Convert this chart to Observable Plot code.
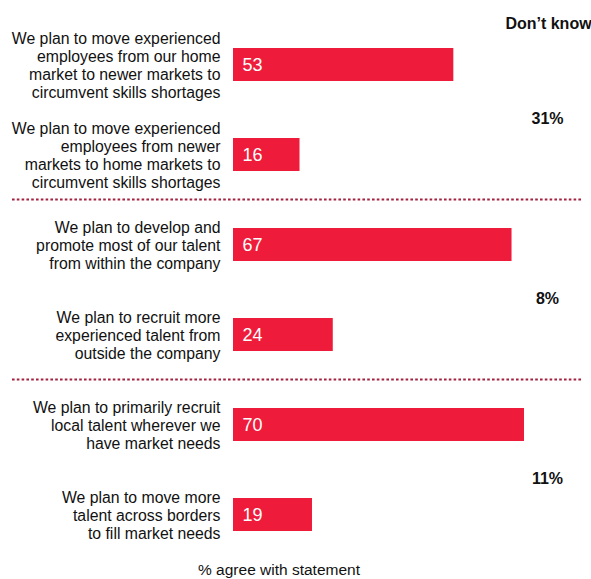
<!DOCTYPE html>
<html>
<head>
<meta charset="utf-8">
<script src="https://cdn.jsdelivr.net/npm/d3@7"></script>
<script src="https://cdn.jsdelivr.net/npm/@observablehq/plot@0.6"></script>
<style>
  html, body { margin: 0; padding: 0; background: #fff; }
  #chart svg { display: block; }
</style>
</head>
<body>
<div id="chart"></div>
<script>
const statements = [
  "We plan to move experienced\nemployees from our home\nmarket to newer markets to\ncircumvent skills shortages",
  "We plan to move experienced\nemployees from newer\nmarkets to home markets to\ncircumvent skills shortages",
  "We plan to develop and\npromote most of our talent\nfrom within the company",
  "We plan to recruit more\nexperienced talent from\noutside the company",
  "We plan to primarily recruit\nlocal talent wherever we\nhave market needs",
  "We plan to move more\ntalent across borders\nto fill market needs"
];
const agree = [53, 16, 67, 24, 70, 19];
const dontKnow = [31, 8, 11];
const pairSecond = [statements[1], statements[3], statements[5]];
const pairStartAfterFirst = [statements[2], statements[4]];
const dontKnowTitle = "Don\u2019t know";
const caption = "% agree with statement";

const rows = statements.map((s, i) => ({statement: s, value: agree[i]}));
const dk = dontKnow.map((v, i) => ({statement: pairSecond[i], value: v}));

const font = "'Liberation Sans', Arial, Helvetica, sans-serif";

const chart = Plot.plot({
  width: 591,
  height: 579,
  marginLeft: 233,
  marginRight: 67,
  marginTop: 45.5,
  marginBottom: 45.5,
  style: {fontFamily: font, background: "#fff", overflow: "visible"},
  x: {domain: [0, 70], axis: null},
  y: {domain: statements, axis: null, paddingInner: 0.637, paddingOuter: 0},
  marks: [
    Plot.ruleY(pairStartAfterFirst, {
      y: d => d, dy: -45.5, stroke: "#a3203f", strokeWidth: 2,
      strokeDasharray: "2.6,2.2", insetLeft: -221, insetRight: -59
    }),
    Plot.barX(rows, {x: "value", y: "statement", fill: "#ee1c3a"}),
    Plot.text(rows, {
      x: 0, y: "statement", text: d => String(d.value), textAnchor: "start",
      dx: 9, fill: "#fff", fontSize: 18
    }),
    Plot.text(rows, {
      x: 0, y: "statement", text: "statement", textAnchor: "end",
      dx: -13, fill: "#111", fontSize: 15.8, lineHeight: 1.14
    }),
    Plot.text(dk, {
      y: "statement", frameAnchor: "right", text: d => d.value + "%",
      textAnchor: "middle", dx: 23, dy: -36, fontWeight: "bold", fontSize: 16, fill: "#111"
    }),
    Plot.text([dontKnowTitle], {
      frameAnchor: "top-right", text: d => d, textAnchor: "middle", dx: 24, dy: -28,
      fontWeight: "bold", fontSize: 16, fill: "#111"
    }),
    Plot.text([caption], {
      frameAnchor: "bottom", text: d => d, dx: -100, dy: 41,
      fontSize: 15.5, fill: "#111"
    })
  ]
});
document.getElementById("chart").append(chart);
</script>
</body>
</html>
